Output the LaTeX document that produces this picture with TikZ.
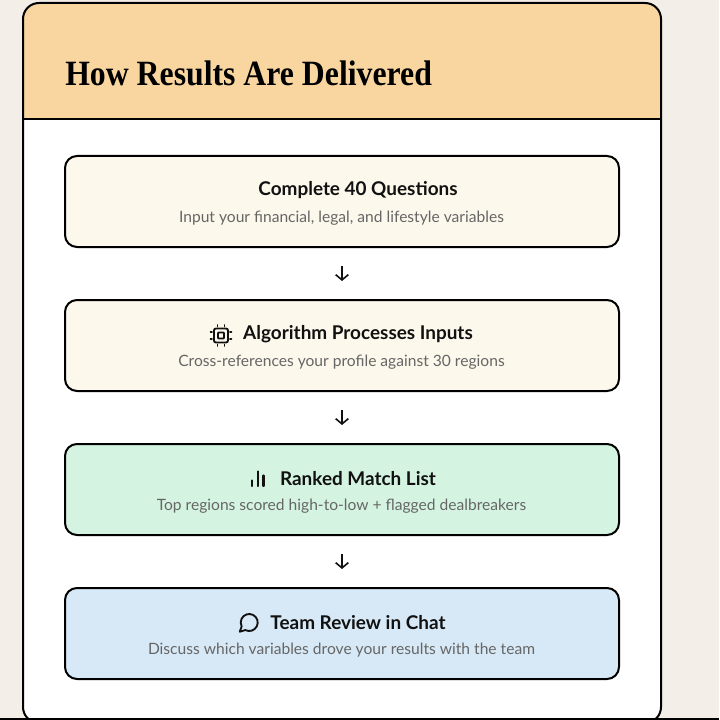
\documentclass[tikz,border=0pt]{standalone}
\usepackage{fontspec}
\setmainfont{Lato}
\newfontfamily\headfont{Liberation Serif}
\usetikzlibrary{arrows.meta}
\definecolor{bgc}{HTML}{F3EFE8}
\definecolor{headc}{HTML}{F9D6A0}
\definecolor{creamc}{HTML}{FDF8EC}
\definecolor{greenc}{HTML}{D4F4E1}
\definecolor{bluec}{HTML}{D7E9F6}
\definecolor{subc}{HTML}{666666}
\definecolor{inkc}{HTML}{111111}
\tikzset{
  stepbox/.style={draw=black, line width=1.5pt, rounded corners=9pt, minimum width=415.5pt, minimum height=68.25pt, inner sep=0pt},
  ttl/.style={font=\bfseries\fontsize{14.2pt}{16pt}\selectfont, text=inkc, inner sep=0pt},
  sub/.style={font=\fontsize{11.7pt}{14pt}\selectfont, text=subc, inner sep=0pt},
  flow/.style={-{Straight Barb[length=4pt,width=9.5pt,line width=1.2pt]}, line width=1.2pt, draw=inkc, shorten <=13.5pt, shorten >=13.5pt},
  ico/.style={draw=inkc, line width=1.4pt, line cap=round, line join=round}
}
\begin{document}
\begin{tikzpicture}[x=0.75pt,y=-0.75pt]
\useasboundingbox (0,0) rectangle (719,720);
\fill[bgc] (0,0) rectangle (719,720);
\begin{scope}
  \clip (0,0) rectangle (719,720);
  \begin{scope}
    \clip[rounded corners=12pt] (23,3) rectangle (661,723);
    \fill[white] (23,3) rectangle (661,723);
    \fill[headc] (23,3) rectangle (661,119);
  \end{scope}
  \draw[black, line width=1.5pt, rounded corners=12pt] (23,3) rectangle (661,723);
  \draw[black, line width=1.5pt] (23,119) -- (661,119);
  \draw[black, line width=1.5pt] (0,718.5) -- (719,718.5);
\end{scope}
\node[anchor=base west, inner sep=0pt] (head) at (65,86) {\resizebox{275pt}{18.5pt}{\headfont\bfseries How Results Are Delivered}};

\node[stepbox, fill=creamc] (b1) at (342,201.5) {};
\node[stepbox, fill=creamc] (b2) at (342,345.5) {};
\node[stepbox, fill=greenc] (b3) at (342,489.5) {};
\node[stepbox, fill=bluec] (b4) at (342,633.5) {};

\node[ttl] (t1) at (358,190.5) {Complete 40 Questions};
\node[sub] (s1) at (341.5,218) {Input your financial, legal, and lifestyle variables};
\node[ttl] (t2) at (358,334.5) {Algorithm Processes Inputs};
\node[sub] (s2) at (341.5,362.5) {Cross-references your profile against 30 regions};
\node[ttl] (t3) at (358,478.5) {Ranked Match List};
\node[sub] (s3) at (341.5,506.5) {Top regions scored high-to-low + flagged dealbreakers};
\node[ttl] (t4) at (358,622.5) {Team Review in Chat};
\node[sub] (s4) at (341.5,650.5) {Discuss which variables drove your results with the team};

% chip icon
\begin{scope}[shift={(t2.west)}, xshift=-22*0.75pt, yshift=-1*0.75pt]
  \draw[ico, rounded corners=1.5pt] (-7,-7) rectangle (7,7);
  \draw[ico, rounded corners=0.6pt] (-3,-3) rectangle (3,3);
  \foreach \p in {-3.5,3.5} {
    \draw[ico] (\p,-10.5) -- (\p,-9);
    \draw[ico] (\p,9) -- (\p,10.5);
    \draw[ico] (-10.5,\p) -- (-9,\p);
    \draw[ico] (9,\p) -- (10.5,\p);
  }
\end{scope}
% bar icon
\begin{scope}[shift={(t3.west)}, xshift=-22*0.75pt]
  \draw[ico, line width=1.6pt] (-6,2) -- (-6,7.5);
  \draw[ico, line width=1.6pt] (0,-7) -- (0,7.5);
  \draw[ico, line width=1.6pt] (5.7,-3) -- (5.7,7.5);
\end{scope}
% chat icon
\begin{scope}[shift={(t4.west)}, xshift=-21*0.75pt]
  \draw[ico] (117:8.5) arc[start angle=117, end angle=-207, radius=8.5] -- (-9.4,9.2) -- cycle;
\end{scope}

\draw[flow] (b1) -- (b2);
\draw[flow] (b2) -- (b3);
\draw[flow] (b3) -- (b4);
\end{tikzpicture}
\end{document}
